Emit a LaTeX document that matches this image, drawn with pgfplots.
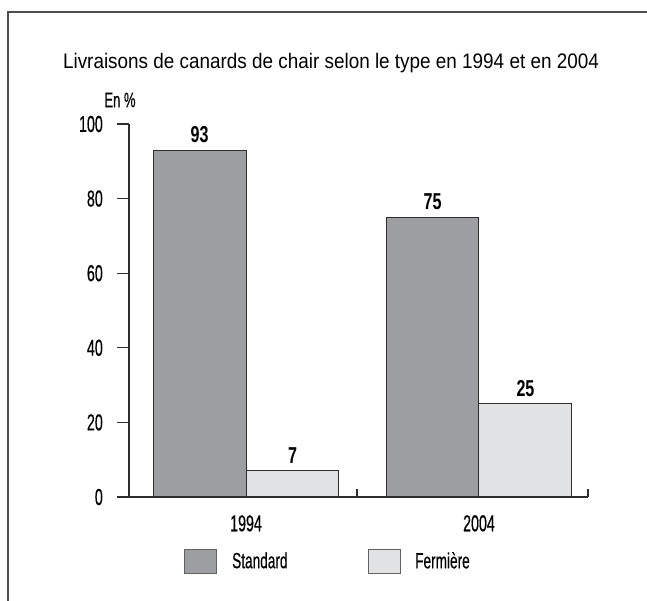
\documentclass[border=0pt]{standalone}
\usepackage{fontspec}
\setmainfont{Liberation Sans}[FakeStretch=0.62, FakeBold=0.4]
\newfontfamily\titlefont{Liberation Sans}[FakeStretch=0.9]
\newfontfamily\valfont{Liberation Sans Bold}[FakeStretch=0.7]
\usepackage{pgfplots}
\pgfplotsset{compat=1.18}
\definecolor{stdgray}{HTML}{9D9EA2}
\definecolor{fermgray}{HTML}{E1E2E4}
\definecolor{edge}{HTML}{2E2E2E}
\begin{document}
\begin{tikzpicture}[x=1pt,y=1pt]
\useasboundingbox (0,0) rectangle (647,601);
\draw[line width=1.5pt, color=edge!85] (8,0) -- (8,589) -- (647,589);
\node[font=\titlefont\fontsize{21}{21}\selectfont] at (331,538) {Livraisons de canards de chair selon le type en 1994 et en 2004};
\begin{axis}[
  at={(129pt,104pt)}, anchor=south west,
  scale only axis, width=459pt, height=373pt,
  xmin=0.5, xmax=2.5, ymin=0, ymax=100,
  ybar=0pt, bar width=0.405,
  axis x line*=bottom, axis y line*=left,
  axis line style={edge, line width=1.1pt, -},
  tick style={draw=edge, line width=1.1pt},
  tick align=outside, major tick length=12pt,
  xtick={1.01,2.025}, xticklabels={1994,2004},
  xtick style={draw=none},
  extra x ticks={1.4935,2.5}, extra x tick labels={},
  extra x tick style={tick align=inside, major tick length=8pt, xtick style={draw=edge}},
  ytick={0,20,40,60,80,100},
  /pgf/number format/assume math mode=true,
  ticklabel style={font=\fontsize{23}{23}\selectfont},
  yticklabel style={inner sep=0pt, xshift=-14pt},
  xticklabel style={inner sep=0pt, yshift=-6pt},
  nodes near coords,
  every node near coord/.append style={font=\valfont\fontsize{23}{23}\selectfont, inner sep=0pt, anchor=south, yshift=7pt},
  legend columns=2,
  legend style={draw=none, fill=none, inner sep=0pt, at={(0.1198,-0.1716)}, anchor=west,
    nodes={inner sep=0pt, font=\fontsize{22}{22}\selectfont},
    column sep=0pt},
  legend image code/.code={\draw[#1, draw=edge!75, line width=1pt] (0pt,-12pt) rectangle (32pt,12pt);},
  clip=false,
]
\addplot[fill=stdgray, draw=edge, line width=1pt] coordinates {(1.01,93) (2.025,75)};
\addplot[fill=fermgray, draw=edge, line width=1pt] coordinates {(1.01,7) (2.025,25)};
\legend{\hspace*{15pt}\makebox[136pt][l]{Standard}, \hspace*{14pt}Fermière}
\node[font=\fontsize{21}{21}\selectfont] at (axis cs:0.5,100) [xshift=-9pt, yshift=24pt] {En \%};
\end{axis}
\end{tikzpicture}
\end{document}
